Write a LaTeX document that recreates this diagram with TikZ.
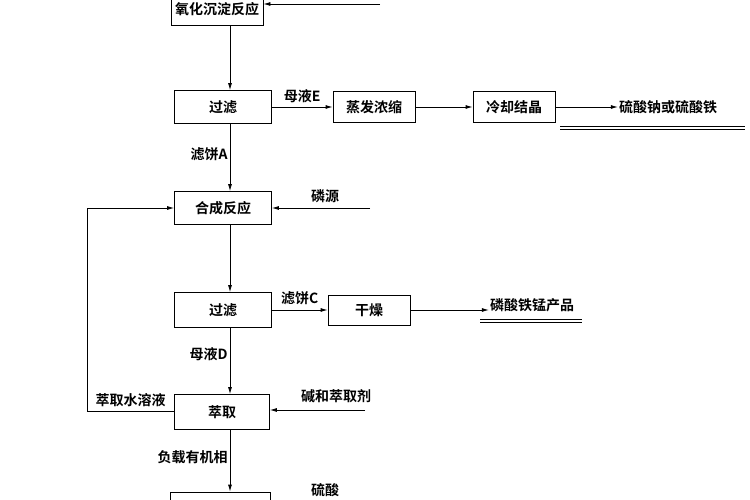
\documentclass[tikz,border=0pt]{standalone}
\usepackage{fontspec}
\newfontfamily\cjk[BoldFont={Noto Sans CJK SC Bold}]{Noto Sans CJK SC}
\usetikzlibrary{arrows.meta}
\tikzstyle{stepbox}=[draw,thick,minimum height=33pt,font=\cjk\bfseries\fontsize{14}{14}\selectfont,inner sep=0pt]
\tikzstyle{lbl}=[font=\cjk\bfseries\fontsize{14}{14}\selectfont,inner sep=1pt]
\tikzstyle{flow}=[thick,-{Latex[length=7pt,width=4pt]}]
\begin{document}
\begin{tikzpicture}[x=1pt,y=-1pt]
\useasboundingbox (0,0) rectangle (750,500);
\clip (0,0) rectangle (750,500);
    \node[stepbox,minimum width=92pt,inner xsep=3pt] (ox) at (217,9)   {氧化沉淀反应};
    \node[stepbox,minimum width=97pt] (f1) at (223,107) {过滤};
    \node[stepbox,minimum width=82pt,minimum height=31pt] (ev) at (374,107) {蒸发浓缩};
    \node[stepbox,minimum width=82pt,minimum height=31pt] (cr) at (514,107) {冷却结晶};
    \node[lbl] (s1) at (668,107) {硫酸钠或硫酸铁};
    \node[stepbox,minimum width=97pt] (sy) at (223,208) {合成反应};
    \node[stepbox,minimum width=97pt,minimum height=35pt] (f2) at (223,310) {过滤};
    \node[stepbox,minimum width=82pt,minimum height=30pt] (dr) at (369,310) {干燥};
    \node[lbl] (pr) at (532,305) {磷酸铁锰产品};
    \node[stepbox,minimum width=95pt,minimum height=35pt] (ex) at (222,412) {萃取};
    \node[stepbox,minimum width=100pt,minimum height=30pt] (bt) at (220,507) {};
%   inputs from the right
    \coordinate (ia) at (380,4);
    \coordinate (ib) at (370,208);
    \coordinate (ic) at (365,410);
    \coordinate (lc) at (87,208);
    \coordinate (ld) at (87,411);
    \node[lbl] at (325,196) {磷源};
    \node[lbl] at (336,396) {碱和萃取剂};
    \node[lbl] at (325,490) {硫酸};
    \draw[flow] (ia) -- (ia -| ox.east);
    \draw[flow] (ib) -- (sy.east);
    \draw[flow] (ic) -- (ic -| ex.east);
%   main line
    \draw[flow] (ox.south -| 230,0) -- (f1.north -| 230,0);
    \draw[flow] (f1.south -| 230,0) -- node[lbl,left=1pt,pos=0.45] {滤饼A} (sy.north -| 230,0);
    \draw[flow] (sy.south -| 230,0) -- (f2.north -| 230,0);
    \draw[flow] (f2.south -| 230,0) -- node[lbl,left=1pt,pos=0.4] {母液D} (ex.north -| 230,0);
    \draw[flow] (ex.south -| 230,0) -- node[lbl,left=1pt,pos=0.45] {负载有机相} (bt.north -| 230,0);
    \draw[flow] (f1) -- node[lbl,above=3pt,pos=0.5] {母液E} (ev);
    \draw[flow] (ev) -- (cr);
    \draw[flow] (cr) -- (s1);
    \draw[flow] (f2) -- node[lbl,above=4pt,pos=0.5] {滤饼C} (dr);
    \draw[flow] (dr) -- (pr.west |- dr);
%   recycle
    \draw[flow] (ex.west |- ld) -- node[lbl,above=3pt,pos=0.5] {萃取水溶液} (ld) -- (lc) -- (sy.west);
%   underlines
    \draw[thick,double,double distance=1.5pt] (560,128) -- (745,128);
    \draw[thick,double,double distance=1.5pt] (480,321) -- (582,321);
\end{tikzpicture}
\end{document}
